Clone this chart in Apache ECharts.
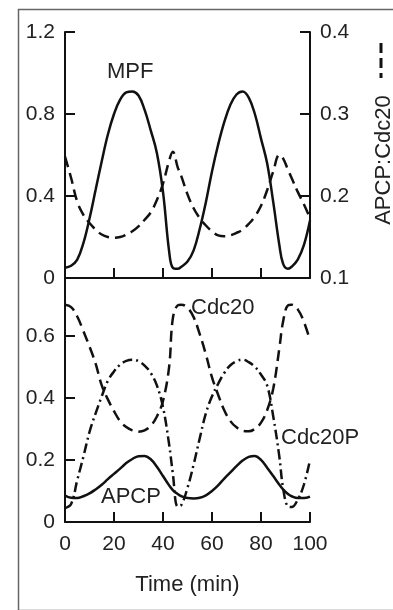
<!DOCTYPE html>
<html>
<head>
<meta charset="utf-8">
<script src="https://cdn.jsdelivr.net/npm/echarts@6.0.0/dist/echarts.min.js"></script>
<style>
  html, body { margin: 0; padding: 0; background: #fff; }
  #chart { width: 393px; height: 610px; }
</style>
</head>
<body>
<div id="chart"></div>
<script>
  // time (min), shared by every curve
  let time = [0, 2.5, 5, 7.5, 10, 12.5, 15, 17.5, 20, 22.5, 25, 27.5, 30, 32.5, 35, 37.5, 40, 42.5, 44, 46,
              47.5, 50, 52.5, 55, 57.5, 60, 62.5, 65, 67.5, 70, 72.5, 75, 77.5, 80, 82.5, 85, 87.5, 89, 91,
              92.5, 95, 97.5, 100];

  // top panel
  let mpf = [0.05, 0.06, 0.09, 0.17, 0.29, 0.43, 0.57, 0.70, 0.80, 0.87, 0.905, 0.91, 0.89, 0.82, 0.72, 0.61, 0.42, 0.13, 0.05, 0.045,
             0.055, 0.08, 0.135, 0.24, 0.37, 0.52, 0.65, 0.76, 0.845, 0.895, 0.91, 0.88, 0.80, 0.68, 0.56, 0.37, 0.16, 0.07, 0.045,
             0.055, 0.09, 0.16, 0.28];
  let apcpCdc20 = [0.248, 0.222, 0.193, 0.177, 0.167, 0.159, 0.153, 0.150, 0.149, 0.150, 0.153, 0.157, 0.163, 0.171, 0.180, 0.195, 0.215, 0.243, 0.254, 0.235,
                   0.224, 0.202, 0.185, 0.173, 0.164, 0.157, 0.152, 0.151, 0.152, 0.155, 0.159, 0.166, 0.175, 0.188, 0.207, 0.230, 0.250, 0.246, 0.232,
                   0.222, 0.205, 0.190, 0.173];

  // bottom panel
  let cdc20 = [0.700, 0.692, 0.662, 0.615, 0.565, 0.51, 0.44, 0.395, 0.357, 0.325, 0.306, 0.295, 0.291, 0.295, 0.31, 0.34, 0.39, 0.50, 0.655, 0.698,
               0.70, 0.69, 0.66, 0.605, 0.54, 0.466, 0.41, 0.36, 0.325, 0.305, 0.294, 0.292, 0.30, 0.32, 0.36, 0.43, 0.56, 0.645, 0.698,
               0.70, 0.685, 0.645, 0.585];
  let cdc20P = [0.045, 0.058, 0.135, 0.21, 0.29, 0.35, 0.405, 0.455, 0.485, 0.507, 0.519, 0.523, 0.518, 0.504, 0.48, 0.44, 0.37, 0.25, 0.157, 0.05,
                0.055, 0.11, 0.185, 0.27, 0.35, 0.405, 0.445, 0.48, 0.505, 0.518, 0.523, 0.515, 0.50, 0.475, 0.44, 0.34, 0.21, 0.11, 0.05,
                0.048, 0.072, 0.12, 0.20];
  let apcp = [0.085, 0.078, 0.077, 0.083, 0.092, 0.105, 0.12, 0.138, 0.155, 0.172, 0.19, 0.203, 0.212, 0.213, 0.202, 0.178, 0.148, 0.118, 0.103, 0.09,
              0.083, 0.077, 0.076, 0.078, 0.086, 0.10, 0.118, 0.14, 0.16, 0.18, 0.198, 0.21, 0.213, 0.20, 0.175, 0.148, 0.12, 0.105, 0.09,
              0.083, 0.077, 0.077, 0.082];

  let xTicks = [0, 20, 40, 60, 80, 100];
  let leftTopTicks = [0, 0.4, 0.8, 1.2];
  let rightTopTicks = [0.1, 0.2, 0.3, 0.4];
  let leftBottomTicks = [0, 0.2, 0.4, 0.6];

  let font = '"Liberation Sans", Arial, Helvetica, sans-serif';
  let ink = '#111';

  function pairs(ys) {
    return time.map(function (t, i) { return [t, ys[i]]; });
  }

  function onlyTicks(list) {
    return function (v) {
      for (let i = 0; i < list.length; i++) {
        if (Math.abs(list[i] - v) < 1e-6) return String(list[i]);
      }
      return '';
    };
  }

  let axisLine = { show: true, onZero: false, lineStyle: { color: ink, width: 2 } };
  let axisTick = { show: true, inside: true, length: 10, lineStyle: { color: ink, width: 2 } };
  let labelStyle = { color: '#222', fontSize: 21, fontFamily: font, margin: 10 };

  let chart = echarts.init(document.getElementById('chart'), null, { renderer: 'canvas' });

  let option = {
    animation: false,
    backgroundColor: '#fff',
    grid: [
      { left: 65, right: 83, top: 32, height: 246, containLabel: false, outerBoundsMode: 'none' },
      { left: 65, right: 83, top: 278, height: 244, containLabel: false, outerBoundsMode: 'none' }
    ],
    xAxis: [
      {
        gridIndex: 0, type: 'value', min: 0, max: 100, interval: 20,
        axisLine: axisLine, axisTick: axisTick,
        axisLabel: { show: false }, splitLine: { show: false }
      },
      {
        gridIndex: 1, type: 'value', min: 0, max: 100, interval: 20,
        axisLine: axisLine, axisTick: axisTick,
        axisLabel: Object.assign({}, labelStyle, { margin: 12, formatter: onlyTicks(xTicks) }),
        splitLine: { show: false },
        name: 'Time (min)', nameLocation: 'middle', nameGap: 52,
        nameTextStyle: { color: '#222', fontSize: 22, fontFamily: font }
      }
    ],
    yAxis: [
      {
        gridIndex: 0, type: 'value', min: 0, max: 1.2, interval: 0.4,
        axisLine: axisLine, axisTick: axisTick,
        axisLabel: Object.assign({}, labelStyle, { formatter: onlyTicks(leftTopTicks) }),
        splitLine: { show: false }
      },
      {
        gridIndex: 0, type: 'value', position: 'right', min: 0.1, max: 0.4, interval: 0.1,
        axisLine: axisLine, axisTick: axisTick,
        axisLabel: Object.assign({}, labelStyle, { formatter: onlyTicks(rightTopTicks) }),
        splitLine: { show: false },
        name: 'APCP:Cdc20', nameLocation: 'middle', nameGap: 63, nameRotate: 90,
        nameTextStyle: { color: '#222', fontSize: 22, fontFamily: font, padding: [0, 10, 14, 0] }
      },
      {
        gridIndex: 1, type: 'value', min: 0, max: 0.786, interval: 0.2,
        axisLine: axisLine, axisTick: axisTick,
        axisLabel: Object.assign({}, labelStyle, { showMaxLabel: false, formatter: onlyTicks(leftBottomTicks) }),
        splitLine: { show: false }
      }
    ],
    series: [
      {
        name: 'MPF', type: 'line', xAxisIndex: 0, yAxisIndex: 0, data: pairs(mpf),
        smooth: 0.4, showSymbol: false, lineStyle: { color: ink, width: 2.5 }
      },
      {
        name: 'APCP:Cdc20', type: 'line', xAxisIndex: 0, yAxisIndex: 1, data: pairs(apcpCdc20),
        smooth: 0.4, showSymbol: false, lineStyle: { color: ink, width: 2.5, type: [11, 6] }
      },
      {
        name: 'Cdc20', type: 'line', xAxisIndex: 1, yAxisIndex: 2, data: pairs(cdc20),
        smooth: 0.4, showSymbol: false, lineStyle: { color: ink, width: 2.5, type: [11, 6] }
      },
      {
        name: 'Cdc20P', type: 'line', xAxisIndex: 1, yAxisIndex: 2, data: pairs(cdc20P),
        smooth: 0.4, showSymbol: false, lineStyle: { color: ink, width: 2.5, type: [10, 4, 2, 4] }
      },
      {
        name: 'APCP', type: 'line', xAxisIndex: 1, yAxisIndex: 2, data: pairs(apcp),
        smooth: 0.4, showSymbol: false, lineStyle: { color: ink, width: 2.5 }
      }
    ],
    graphic: [
      // outer frame of the figure
      { type: 'rect', left: 16, top: 7, shape: { width: 400, height: 601 }, silent: true,
        style: { fill: 'none', stroke: '#666', lineWidth: 1.5 } },
      // dash key beside the right axis name
      { type: 'line', shape: { x1: 381, y1: 43, x2: 381, y2: 78 }, silent: true,
        style: { stroke: ink, lineWidth: 3, lineDash: [10, 5] } },
      { type: 'text', left: 107, top: 61, style: { text: 'MPF', fill: '#222', fontSize: 22, fontFamily: font } },
      { type: 'text', left: 191, top: 297, style: { text: 'Cdc20', fill: '#222', fontSize: 22, fontFamily: font } },
      { type: 'text', left: 281, top: 427, style: { text: 'Cdc20P', fill: '#222', fontSize: 22, fontFamily: font } },
      { type: 'text', left: 101, top: 486, style: { text: 'APCP', fill: '#222', fontSize: 22, fontFamily: font } }
    ]
  };

  chart.setOption(option);
  window.addEventListener('resize', function () {
    chart.resize();
  });
</script>
</body>
</html>
